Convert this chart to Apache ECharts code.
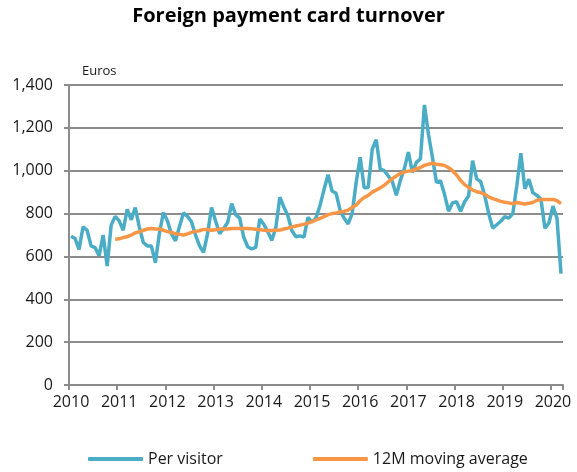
<!DOCTYPE html>
<html>
<head>
<meta charset="utf-8">
<script src="https://cdn.jsdelivr.net/npm/echarts@6/dist/echarts.min.js"></script>
<style>
  html, body { margin: 0; padding: 0; background: #fff; }
  #chart { width: 577px; height: 472px; }
</style>
</head>
<body>
<div id="chart"></div>
<script>
// years shown on the x axis, data is monthly from Jan 2010 to Mar 2020
const years = [2010, 2011, 2012, 2013, 2014, 2015, 2016, 2017, 2018, 2019, 2020];
const lastYearMonths = 3;

// per visitor, euros (monthly)
const perVisitor = [
  694, 684, 633, 738, 722, 649, 641, 603, 700, 555, 746, 787,   // 2010
  766, 722, 820, 771, 828, 738, 665, 649, 649, 571, 706, 805,   // 2011
  766, 706, 673, 738, 803, 787, 762, 700, 649, 619, 706, 828,   // 2012
  765, 706, 730, 758, 847, 795, 779, 690, 645, 635, 642, 775,   // 2013
  750, 715, 675, 735, 876, 831, 790, 720, 692, 696, 690, 782,   // 2014
  761, 780, 838, 912, 981, 905, 895, 815, 778, 752, 800, 945,   // 2015
  1063, 920, 922, 1100, 1145, 1008, 1000, 975, 950, 885, 955, 1010, // 2016
  1087, 992, 1039, 1055, 1307, 1170, 1062, 945, 953, 890, 811, 850, // 2017
  855, 811, 855, 882, 1047, 962, 950, 885, 800, 732, 748, 764,  // 2018
  785, 779, 800, 930, 1082, 915, 960, 897, 885, 868, 732, 756,  // 2019
  835, 779, 520                                                  // 2020
];

// 12 month moving average, starts Dec 2010
const movingAvg = [
  null, null, null, null, null, null, null, null, null, null, null, 680,
  682, 688, 692, 700, 710, 715, 722, 728, 730, 728, 728, 722,
  716, 712, 706, 703, 700, 705, 712, 717, 720, 726, 726, 722,
  724, 728, 728, 728, 730, 730, 730, 730, 730, 729, 727, 725,
  722, 721, 721, 722, 723, 728, 732, 738, 742, 746, 750, 755,
  762, 770, 778, 786, 795, 800, 803, 807, 811, 816, 828, 840,
  860, 875, 885, 900, 910, 920, 932, 948, 963, 975, 987, 994,
  998, 1001, 1008, 1015, 1025, 1030, 1035, 1030, 1028, 1024, 1014, 1000,
  980, 955, 935, 922, 910, 902, 898, 890, 878, 870, 864, 857,
  853, 850, 846, 852, 848, 845, 848, 852, 862, 866, 866, 866,
  866, 860, 846
];

// month categories built from the years
let months = [];
years.forEach(function (y, i) {
  let n = (i === years.length - 1) ? lastYearMonths : 12;
  for (let m = 1; m <= n; m++) {
    months.push(y + '-' + (m < 10 ? '0' + m : m));
  }
});

const font = 'Open Sans';
const gridColor = '#8c8c8c';

let myChart = echarts.init(document.getElementById('chart'));
myChart.setOption({
  animation: false,
  backgroundColor: '#fff',
  title: {
    text: 'Foreign payment card turnover',
    left: 'center',
    top: 1,
    textStyle: {
      fontFamily: font,
      fontWeight: 'bold',
      fontSize: 20,
      color: '#000'
    }
  },
  legend: {
    data: ['Per visitor', '12M moving average'],
    left: 83,
    top: 446,
    icon: 'roundRect',
    itemWidth: 55,
    itemHeight: 4,
    itemGap: 90,
    textStyle: {
      fontFamily: font,
      fontSize: 16,
      color: '#1a1a1a'
    }
  },
  grid: {
    left: 69,
    right: 14,
    top: 85,
    bottom: 87,
    containLabel: false
  },
  xAxis: {
    type: 'category',
    data: months,
    boundaryGap: true,
    axisLine: { lineStyle: { color: gridColor, width: 2 } },
    axisTick: {
      show: true,
      length: 5,
      interval: function (i) { return i % 12 === 0; },
      lineStyle: { color: gridColor, width: 2 }
    },
    axisLabel: {
      interval: function (i) { return i % 12 === 0; },
      formatter: function (v) { return v.slice(0, 4); },
      fontFamily: font,
      fontSize: 16,
      color: '#1a1a1a',
      margin: 9
    },
    splitLine: { show: false }
  },
  yAxis: {
    type: 'value',
    min: 0,
    max: 1400,
    interval: 200,
    name: 'Euros',
    nameLocation: 'end',
    nameGap: 7,
    nameTextStyle: {
      fontFamily: font,
      fontSize: 13,
      color: '#1a1a1a',
      align: 'left',
      padding: [0, 0, 0, 13]
    },
    axisLine: { show: true, lineStyle: { color: gridColor, width: 2 } },
    axisTick: { show: true, length: 5, lineStyle: { color: gridColor, width: 2 } },
    axisLabel: {
      fontFamily: font,
      fontSize: 16,
      color: '#1a1a1a',
      margin: 16,
      formatter: function (v) { return v.toLocaleString('en-US'); }
    },
    splitLine: { show: true, lineStyle: { color: gridColor, width: 2 } }
  },
  series: [
    {
      name: 'Per visitor',
      type: 'line',
      data: perVisitor,
      symbol: 'none',
      color: '#4bacc6',
      lineStyle: { color: '#4bacc6', width: 3.5 }
    },
    {
      name: '12M moving average',
      type: 'line',
      data: movingAvg,
      symbol: 'none',
      color: '#f79646',
      lineStyle: { color: '#f79646', width: 3.5 }
    }
  ]
});
</script>
</body>
</html>
